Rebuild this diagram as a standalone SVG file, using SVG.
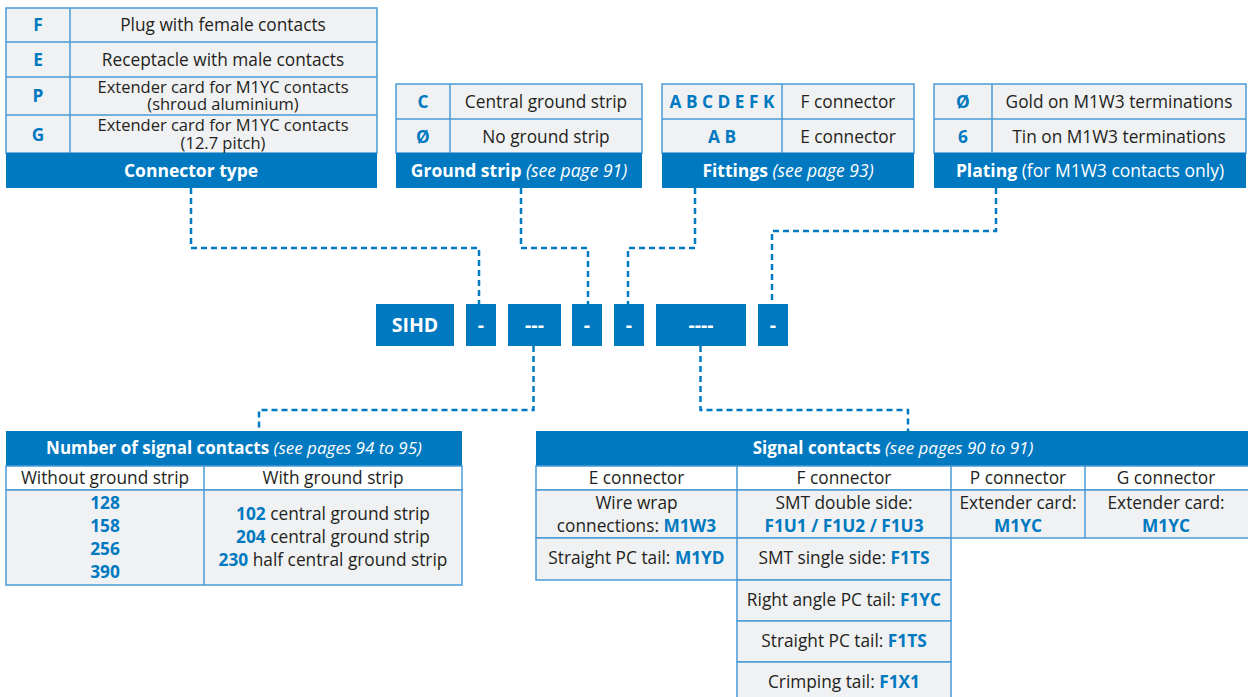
<svg xmlns="http://www.w3.org/2000/svg" width="1248" height="697" viewBox="0 0 1248 697">
<style>
.cell{fill:#F0F1F3;stroke:#4A9BD6;stroke-width:1.5}
.wcell{fill:#FFFFFF;stroke:#4A9BD6;stroke-width:1.5}
.ln{stroke:#4A9BD6;stroke-width:1.5;fill:none}
.hd{fill:#0079C1}
.box{fill:#0079C1}
text{font-family:"Open Sans","Noto Sans","Liberation Sans",sans-serif;text-anchor:middle}
.t{font-size:17.3px;fill:#231F20}
.t2{font-size:16.5px;fill:#231F20}
.k{font-size:17.3px;fill:#0079C1;font-weight:bold}
.bk{fill:#0079C1;font-weight:bold}
.h{font-size:17.5px;fill:#FFFFFF;font-weight:bold}
.h2{font-size:17px;fill:#FFFFFF;font-weight:bold}
.it{font-style:italic;font-weight:normal}
.rg{font-weight:normal}
.c{font-size:19.5px;fill:#FFFFFF;font-weight:bold}
.dash{fill:none;stroke:#0079C1;stroke-width:2.5;stroke-dasharray:6 4}
</style>

<g id="connector-type">
<rect class="cell" x="6" y="8" width="371" height="145"/>
<line class="ln" x1="6" y1="42" x2="377" y2="42"/>
<line class="ln" x1="6" y1="77" x2="377" y2="77"/>
<line class="ln" x1="6" y1="115" x2="377" y2="115"/>
<line class="ln" x1="70" y1="8" x2="70" y2="153"/>
<rect class="hd" x="6" y="153" width="371" height="35"/>
<text class="k" x="38" y="31">F</text>
<text class="t" x="223" y="31">Plug with female contacts</text>
<text class="k" x="38" y="66">E</text>
<text class="t" x="223" y="66">Receptacle with male contacts</text>
<text class="k" x="38" y="102">P</text>
<text class="t2" x="223" y="92.5">Extender card for M1YC contacts<tspan x="223" dy="17.5">(shroud aluminium)</tspan></text>
<text class="k" x="38" y="141">G</text>
<text class="t2" x="223" y="131">Extender card for M1YC contacts<tspan x="223" dy="17.5">(12.7 pitch)</tspan></text>
<text class="h" x="191" y="177">Connector type</text>
</g>

<g id="ground-strip">
<rect class="cell" x="396" y="84" width="246" height="69"/>
<line class="ln" x1="396" y1="119" x2="642" y2="119"/>
<line class="ln" x1="450" y1="84" x2="450" y2="153"/>
<rect class="hd" x="396" y="153" width="246" height="35"/>
<text class="k" x="423" y="108">C</text>
<text class="t" x="546" y="108">Central ground strip</text>
<text class="k" x="423" y="143">Ø</text>
<text class="t" x="546" y="143">No ground strip</text>
<text class="h" x="519" y="177">Ground strip<tspan class="it"> (see page 91)</tspan></text>
</g>

<g id="fittings">
<rect class="cell" x="662" y="84" width="252" height="69"/>
<line class="ln" x1="662" y1="119" x2="914" y2="119"/>
<line class="ln" x1="782" y1="84" x2="782" y2="153"/>
<rect class="hd" x="662" y="153" width="252" height="35"/>
<text class="k" x="722" y="108">A B C D E F K</text>
<text class="t" x="848" y="108">F connector</text>
<text class="k" x="722" y="143">A B</text>
<text class="t" x="848" y="143">E connector</text>
<text class="h" x="788" y="177">Fittings<tspan class="it"> (see page 93)</tspan></text>
</g>

<g id="plating">
<rect class="cell" x="934" y="84" width="312" height="69"/>
<line class="ln" x1="934" y1="119" x2="1246" y2="119"/>
<line class="ln" x1="992" y1="84" x2="992" y2="153"/>
<rect class="hd" x="934" y="153" width="312" height="35"/>
<text class="k" x="963" y="108">Ø</text>
<text class="t" x="1119" y="108">Gold on M1W3 terminations</text>
<text class="k" x="963" y="143">6</text>
<text class="t" x="1119" y="143">Tin on M1W3 terminations</text>
<text class="h" x="1090" y="177">Plating<tspan class="rg"> (for M1W3 contacts only)</tspan></text>
</g>

<g id="code-sihd"><rect class="box" x="376" y="304" width="78" height="42"/><text class="c" x="415" y="332">SIHD</text></g>
<g id="code-dash1"><rect class="box" x="466" y="304" width="30" height="42"/><text class="c" x="481" y="332">-</text></g>
<g id="code-contacts"><rect class="box" x="508" y="304" width="53" height="42"/><text class="c" x="534.5" y="332">---</text></g>
<g id="code-dash2"><rect class="box" x="572" y="304" width="30" height="42"/><text class="c" x="587" y="332">-</text></g>
<g id="code-dash3"><rect class="box" x="614" y="304" width="30" height="42"/><text class="c" x="629" y="332">-</text></g>
<g id="code-signal"><rect class="box" x="656" y="304" width="90" height="42"/><text class="c" x="701" y="332">----</text></g>
<g id="code-dash4"><rect class="box" x="758" y="304" width="30" height="42"/><text class="c" x="773" y="332">-</text></g>

<g id="connectors">
<path class="dash" d="M191,188 V248 H479 V304"/>
<path class="dash" d="M521,188 V248 H588 V304"/>
<path class="dash" d="M695,188 V248 H628 V304"/>
<path class="dash" d="M996,188 V231 H772 V304"/>
<path class="dash" d="M533.5,346 V410 H259 V431"/>
<path class="dash" d="M700.5,346 V410 H908 V431"/>
</g>

<g id="number-of-signal-contacts">
<rect class="hd" x="6" y="431" width="456" height="35"/>
<rect class="wcell" x="6" y="466" width="456" height="24"/>
<rect class="cell" x="6" y="490" width="456" height="95"/>
<line class="ln" x1="204" y1="466" x2="204" y2="585"/>
<text class="h2" x="234" y="454">Number of signal contacts<tspan class="it"> (see pages 94 to 95)</tspan></text>
<text class="t" x="105" y="484">Without ground strip</text>
<text class="t" x="333" y="484">With ground strip</text>
<text class="k" x="105" y="509">128</text>
<text class="k" x="105" y="532">158</text>
<text class="k" x="105" y="555">256</text>
<text class="k" x="105" y="578">390</text>
<text class="t" x="333" y="520"><tspan class="bk">102</tspan> central ground strip</text>
<text class="t" x="333" y="543"><tspan class="bk">204</tspan> central ground strip</text>
<text class="t" x="333" y="566"><tspan class="bk">230</tspan> half central ground strip</text>
</g>

<g id="signal-contacts">
<rect class="hd" x="536" y="431" width="714" height="35"/>
<rect class="wcell" x="536" y="466" width="714" height="24"/>
<rect class="cell" x="536" y="490" width="714" height="48"/>
<rect class="cell" x="536" y="538" width="415" height="42"/>
<rect class="cell" x="737" y="580" width="214" height="41"/>
<rect class="cell" x="737" y="621" width="214" height="41"/>
<rect class="cell" x="737" y="662" width="214" height="41"/>
<line class="ln" x1="737" y1="466" x2="737" y2="580"/>
<line class="ln" x1="951" y1="466" x2="951" y2="538"/>
<line class="ln" x1="1085" y1="466" x2="1085" y2="538"/>
<text class="h2" x="893" y="454">Signal contacts<tspan class="it"> (see pages 90 to 91)</tspan></text>
<text class="t" x="636.5" y="484">E connector</text>
<text class="t" x="844" y="484">F connector</text>
<text class="t" x="1018" y="484">P connector</text>
<text class="t" x="1166" y="484">G connector</text>
<text class="t" x="636.5" y="509">Wire wrap</text>
<text class="t" x="636.5" y="532">connections: <tspan class="bk">M1W3</tspan></text>
<text class="t" x="844" y="509">SMT double side:</text>
<text class="k" x="844" y="532">F1U1 / F1U2 / F1U3</text>
<text class="t" x="1018" y="509">Extender card:</text>
<text class="k" x="1018" y="532">M1YC</text>
<text class="t" x="1166" y="509">Extender card:</text>
<text class="k" x="1166" y="532">M1YC</text>
<text class="t" x="636.5" y="564">Straight PC tail: <tspan class="bk">M1YD</tspan></text>
<text class="t" x="844" y="564">SMT single side: <tspan class="bk">F1TS</tspan></text>
<text class="t" x="844" y="606">Right angle PC tail: <tspan class="bk">F1YC</tspan></text>
<text class="t" x="844" y="647">Straight PC tail: <tspan class="bk">F1TS</tspan></text>
<text class="t" x="844" y="688">Crimping tail: <tspan class="bk">F1X1</tspan></text>
</g>
</svg>
